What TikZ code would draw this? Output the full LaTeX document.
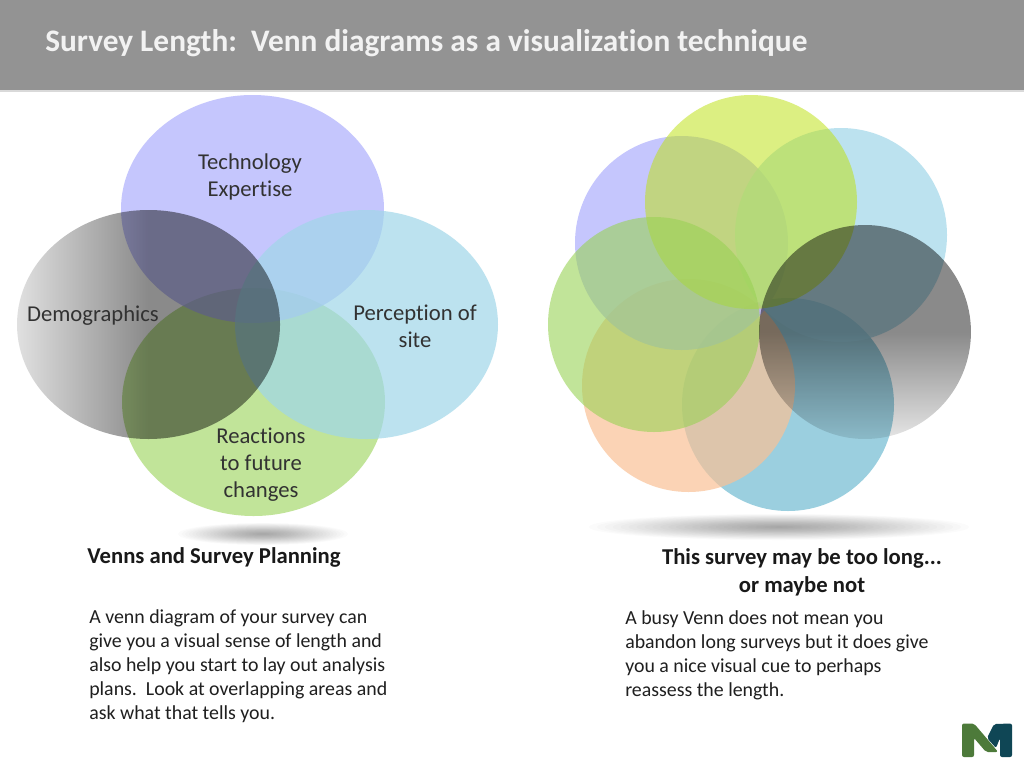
\documentclass[tikz,border=0pt]{standalone}
\usepackage{fontspec}
\setmainfont{Carlito}[Ligatures=NoCommon]
\usetikzlibrary{fadings}
\definecolor{vlilac}{RGB}{173,174,253}
\definecolor{vgreen}{RGB}{168,217,110}
\definecolor{vgreenb}{RGB}{153,210,85}
\definecolor{vsky}{RGB}{160,215,233}
\definecolor{vyellow}{RGB}{190,225,19}
\definecolor{vpeach}{RGB}{250,193,150}
\definecolor{vblue}{RGB}{113,188,210}
\definecolor{inktext}{RGB}{50,50,50}
\definecolor{headgray}{RGB}{147,147,147}
\definecolor{logogreen}{RGB}{77,122,58}
\definecolor{logoteal}{RGB}{15,70,85}
\tikzfading[name=grayh, left color=transparent!88, right color=transparent!54, middle color=transparent!54]
\tikzfading[name=grayv, top color=transparent!54, bottom color=transparent!90, middle color=transparent!54]
\tikzset{
  disc/.style 2 args={fill=#1, fill opacity=#2, draw=none},
  graydisch/.style={fill=black, path fading=grayh},
  graydiscv/.style={fill=black, path fading=grayv},
  floorshadow/.style={fill=black, fill opacity=0.0165, draw=none},
  label/.style={font=\fontsize{17}{20.25}\selectfont, text=inktext, align=center, inner sep=0pt},
  heading/.style={font=\bfseries\fontsize{17}{21}\selectfont, text=black!90, align=center, inner sep=0pt},
  bodytext/.style={font=\fontsize{14.9}{18}\selectfont, text=black!88, align=left, anchor=west, inner sep=0pt},
}
\begin{document}
\begin{tikzpicture}[x=0.75pt,y=-0.75pt]
\useasboundingbox (0,0) rectangle (1024,768);
\fill[white] (0,0) rectangle (1024,768);
% header
\fill[headgray] (0,0) rectangle (1024,90);
\fill[black!15] (0,90) rectangle (1024,91.5);
\node[anchor=west, inner sep=0pt, text=white!95!black, font=\bfseries\fontsize{23.5}{28}\selectfont] (title) at (45,43) {Survey Length:\ \ Venn diagrams as a visualization technique};
% floor shadows: stacks of faint ellipses
\foreach \k in {1,...,24}{
  \pgfmathsetmacro{\fr}{\k/24}
  \path[floorshadow] (263,534) ellipse [x radius={85*\fr}, y radius={11*\fr}];
  \path[floorshadow] (779,527) ellipse [x radius={190*\fr}, y radius={13*\fr}];
}
% left venn
\path[disc={vgreen}{0.7}] (253.5,402) ellipse [x radius=131.5, y radius=114];
\path[disc={vlilac}{0.7}] (252.5,209) ellipse [x radius=131.5, y radius=114];
\path[disc={vsky}{0.7}] (366.5,324.5) ellipse [x radius=131.5, y radius=114.5];
\path[graydisch] (148.5,324.5) ellipse [x radius=131.5, y radius=114.5];
% right venn
\path[disc={vblue}{0.7}] (788,404.5) ellipse [x radius=106, y radius=106.5];
\path[disc={vpeach}{0.7}] (688.5,385.5) ellipse [x radius=106.5, y radius=106.5];
\path[disc={vlilac}{0.7}] (681.5,243) ellipse [x radius=106.5, y radius=107];
\path[disc={vsky}{0.7}] (841,235) ellipse [x radius=106, y radius=107];
\path[disc={vyellow}{0.53}] (751,202) ellipse [x radius=106, y radius=107];
\path[disc={vgreenb}{0.6}] (654,324.5) ellipse [x radius=106, y radius=107.5];
\path[graydiscv] (865,332) ellipse [x radius=106, y radius=107];
% labels
\node[label] (tech) at (250,176.5) {Technology\\Expertise};
\node[label] (demo) at (93,316) {Demographics};
\node[label] (perc) at (415,326.5) {Perception of\\site};
\node[label] (reac) at (261,464.5) {Reactions\\to future\\changes};
\node[heading] (headl) at (214,557) {Venns and Survey Planning};
\node[heading] (headr) at (802,572) {This survey may be too long...\\or maybe not};
\node[bodytext] (bodyl) at (89,666) {A venn diagram of your survey can\\give you a visual sense of length and\\also help you start to lay out analysis\\plans.\ \ Look at overlapping areas and\\ask what that tells you.};
\node[bodytext] (bodyr) at (625,655) {A busy Venn does not mean you\\abandon long surveys but it does give\\you a nice visual cue to perhaps\\reassess the length.};
% logo
\fill[rounded corners=1.5pt, logogreen] (962,723.5) -- (974,723.5) -- (994,747) -- (998,752) -- (986,752) -- (974,738) -- (974,757) -- (962,757) -- cycle;
\fill[rounded corners=1.5pt, logoteal] (987,738) -- (994,724) -- (1012,723.5) -- (1012,757) -- (1000,757) -- (1000,738) -- (996,748) -- cycle;
\end{tikzpicture}
\end{document}
